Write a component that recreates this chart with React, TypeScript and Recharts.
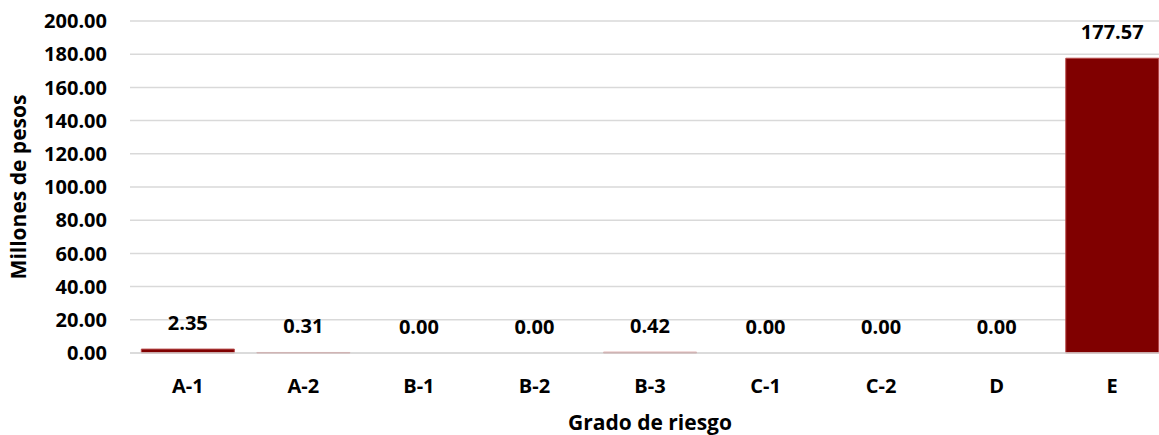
import React from "react";
import { Bar, CartesianGrid, ComposedChart, Line, XAxis, YAxis } from "recharts";

const grados = ["A-1", "A-2", "B-1", "B-2", "B-3", "C-1", "C-2", "D", "E"];
const millones = [2.35, 0.31, 0.0, 0.0, 0.42, 0.0, 0.0, 0.0, 177.57];
const yTicks = [0, 20, 40, 60, 80, 100, 120, 140, 160, 180, 200];

const font = "'Open Sans', sans-serif";

// etiquetas de valor (también para los ceros, que no tienen barra)
const renderValue = (props: any) => {
  const { x, y, value } = props;
  return (
    <text
      x={Number(x)}
      y={Number(y) - 19}
      textAnchor="middle"
      fill="#000"
      fontSize={20}
      fontWeight={700}
      fontFamily={font}
    >
      {Number(value).toFixed(2)}
    </text>
  );
};

export default function App() {
  const data = grados.map((grado, i) => ({ grado, valor: millones[i] }));

  return (
    <div style={{ position: "absolute", left: 0, top: 0, width: 1159, height: 435, overflow: "hidden", background: "#fff", fontFamily: font }}>
      <ComposedChart
        width={1159}
        height={435}
        data={data}
        margin={{ top: 21, right: -11, bottom: 0, left: 0 }}
        barCategoryGap="9.8%"
      >
        <CartesianGrid vertical={false} stroke="#d9d9d9" strokeWidth={1.5} />
        <XAxis
          dataKey="grado"
          height={82}
          axisLine={{ stroke: "#d9d9d9", strokeWidth: 1.5 }}
          tickLine={false}
          tickMargin={20}
          tick={{ fill: "#000", fontSize: 20, fontWeight: 700, fontFamily: font }}
          label={{
            value: "Grado de riesgo",
            position: "insideBottom",
            offset: 5,
            fill: "#000",
            fontSize: 21,
            fontWeight: 700,
            fontFamily: font,
          }}
        />
        <YAxis
          width={130}
          domain={[0, 200]}
          ticks={yTicks}
          interval={0}
          axisLine={false}
          tickLine={false}
          tickMargin={17}
          tickFormatter={(v: number) => v.toFixed(2)}
          tick={{ fill: "#000", fontSize: 20, fontWeight: 700, fontFamily: font }}
          label={{
            value: "Millones de pesos",
            angle: -90,
            position: "insideLeft",
            offset: 19,
            style: { textAnchor: "middle" },
            fill: "#000",
            fontSize: 21,
            fontWeight: 700,
            fontFamily: font,
          }}
        />
        <Bar dataKey="valor" fill="#800000" stroke="#b84a4a" strokeWidth={1} isAnimationActive={false} />
        <Line
          dataKey="valor"
          stroke="none"
          dot={false}
          activeDot={false}
          legendType="none"
          isAnimationActive={false}
          label={renderValue}
        />
      </ComposedChart>
    </div>
  );
}
